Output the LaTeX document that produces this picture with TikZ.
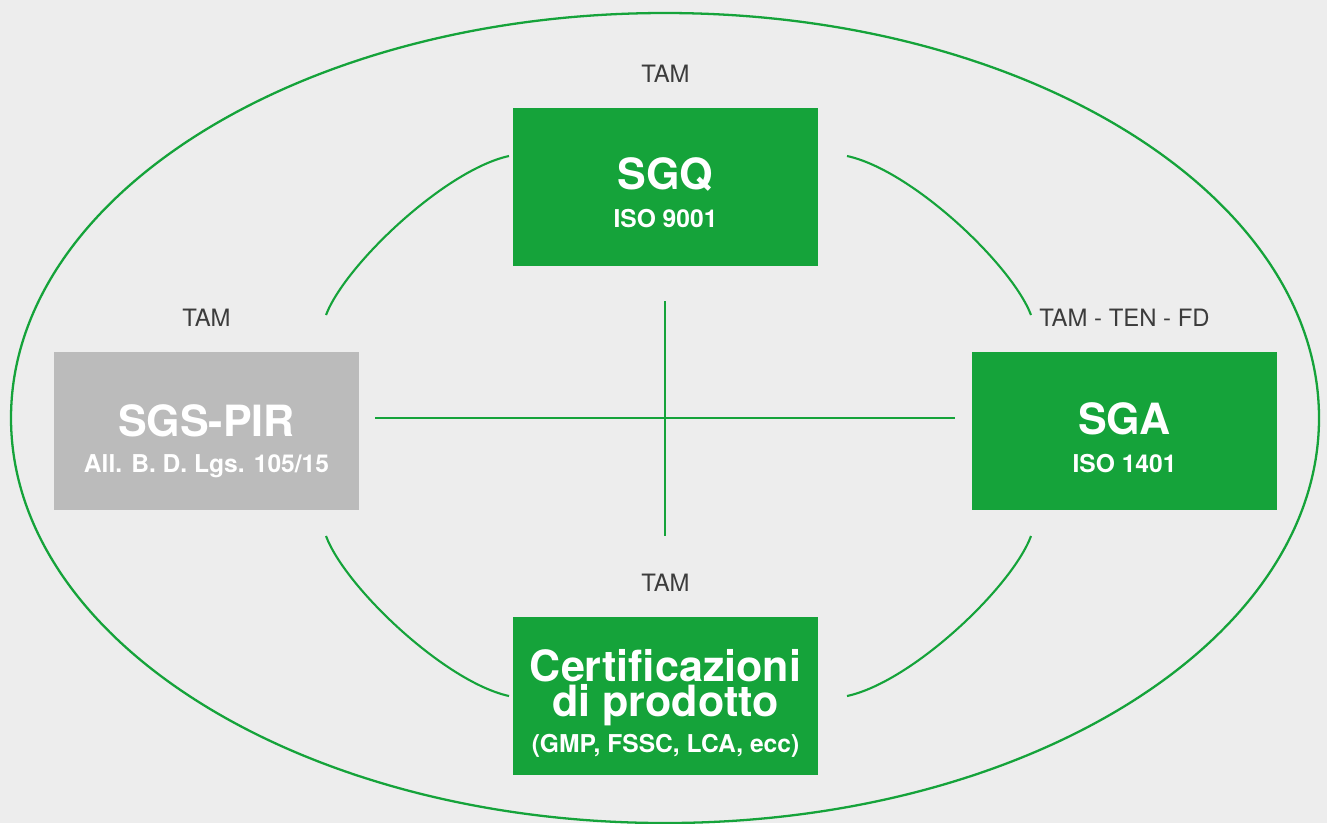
\documentclass[tikz,border=0pt]{standalone}
\usepackage{fontspec}
\setmainfont{TeX Gyre Heros}
\usepackage{tikz}
\usetikzlibrary{calc,positioning}
\definecolor{dgreen}{RGB}{21,163,58}
\definecolor{lgray}{RGB}{187,187,187}
\definecolor{bgray}{RGB}{237,237,237}
\definecolor{tgray}{RGB}{60,60,60}
\tikzset{
  gbox/.style={fill=dgreen,minimum width=6.1cm,minimum height=3.16cm,inner sep=0pt},
  pbox/.style={gbox,fill=lgray},
  ttl/.style={white,font=\fontsize{24.5}{19.8}\selectfont\bfseries,anchor=base,inner sep=0pt},
  sub/.style={white,font=\fontsize{14}{16}\selectfont\bfseries,anchor=base,inner sep=0pt},
  tag/.style={tgray,font=\fontsize{13.6}{16}\selectfont,anchor=base,inner sep=0pt},
  link/.style={dgreen,line width=1.2pt},
  cross/.style={dgreen,line width=1.5pt},
  rim/.style={dgreen,line width=1.3pt}
}

\begin{document}
\begin{tikzpicture}[x=0.02cm,y=-0.02cm]
  \fill[bgray] (0,0) rectangle (1327,823);
  \useasboundingbox (0,0) rectangle (1327,823);
  \draw[rim] (665,418) ellipse [x radius=654, y radius=405];
  % boxes
  \node[gbox] (sgq) at (665.5,187) {};
  \node[pbox] (sgs) at (206.5,431) {};
  \node[gbox] (sga) at (1124.5,431) {};
  \node[gbox] (cert) at (665.5,696) {};
  % texts
  \node[tag] (sgqtag) at ($(sgq.north)+(0,-25)$) {TAM};
  \node[ttl] (sgqttl) at ($(sgq.north)+(0,82)$) {SGQ};
  \node[sub] (sgqsub) at ($(sgq.north)+(0,120)$) {ISO 9001};
  \node[tag] (sgstag) at ($(sgs.north)+(0,-25)$) {TAM};
  \node[ttl] (sgsttl) at ($(sgs.north)+(0,85)$) {SGS-PIR};
  \node[sub] (sgssub) at ($(sgs.north)+(0,121)$) {All. B. D. Lgs. 105/15};
  \node[tag] (sgatag) at ($(sga.north)+(0,-25)$) {TAM - TEN - FD};
  \node[ttl] (sgattl) at ($(sga.north)+(0,83)$) {SGA};
  \node[sub] (sgasub) at ($(sga.north)+(0,121)$) {ISO 1401};
  \node[tag] (certtag) at ($(cert.north)+(0,-25)$) {TAM};
  \node[ttl,align=center,text depth=0pt,anchor=south] (certttl)
    at ($(cert.north)+(0,100)$) {Certificazioni\\di prodotto};
  \node[sub] (certsub) at ($(cert.north)+(0,136)$) {(GMP, FSSC, LCA, ecc)};
  % cross
  \coordinate (vtop) at (665,301);
  \coordinate (vbot) at (665,536);
  \coordinate (hlft) at (375,418);
  \coordinate (hrgt) at (955,418);
  \draw[cross] (vtop) -- (vbot);
  \draw[cross] (hlft) -- (hrgt);
  % arcs
  \coordinate (tla) at (326,315);
  \coordinate (tlb) at (509,156);
  \coordinate (tra) at (847,156);
  \coordinate (trb) at (1031,315);
  \coordinate (bla) at (326,536);
  \coordinate (blb) at (509,696);
  \coordinate (bra) at (847,696);
  \coordinate (brb) at (1031,536);
  \draw[link] (tla) .. controls (345,265) and (445,170) .. (tlb);
  \draw[link] (tra) .. controls (912,170) and (1012,265) .. (trb);
  \draw[link] (bla) .. controls (345,587) and (445,682) .. (blb);
  \draw[link] (bra) .. controls (912,682) and (1012,587) .. (brb);
\end{tikzpicture}
\end{document}
